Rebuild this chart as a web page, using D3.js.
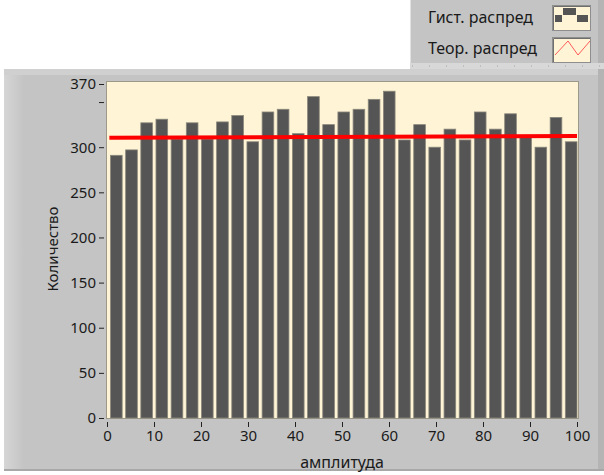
<!DOCTYPE html>
<html>
<head>
<meta charset="utf-8">
<script src="https://cdn.jsdelivr.net/npm/d3@7"></script>
<style>
  html, body { margin: 0; padding: 0; background: #ffffff; }
  svg { display: block; }
  text { font-family: "Noto Sans", "Open Sans", sans-serif; fill: #1a1a1a; }
</style>
</head>
<body>
<svg id="chart" width="604" height="475"></svg>
<script>
// ---- data ----
const xDomain = [0, 100];
const yDomain = [0, 370];
const counts = [291, 297, 327, 331, 309, 327, 309, 328, 335, 306, 339, 342, 315, 356, 325, 339,
                342, 353, 362, 308, 325, 300, 320, 308, 339, 320, 337, 311, 300, 333, 306];
const theoX = [0.5, 100];
const theoY = [310.4, 312.5];
const xTicks = [0, 10, 20, 30, 40, 50, 60, 70, 80, 90, 100];
const yTicksLabeled = [0, 50, 100, 150, 200, 250, 300, 370];
const yTicksMinor = [350];
const legendLabels = ["Гист. распред", "Теор. распред"];
const xTitle = "амплитуда";
const yTitle = "Количество";

// ---- layout ----
const svg = d3.select("#chart");
const plot = { left: 107, right: 577, top: 84, bottom: 418 };
const x = d3.scaleLinear().domain(xDomain).range([plot.left, plot.right]);
const y = d3.scaleLinear().domain(yDomain).range([plot.bottom, plot.top]);

const defs = svg.append("defs");
const gl = defs.append("linearGradient").attr("id", "leftGrad").attr("x1", 0).attr("x2", 1);
gl.append("stop").attr("offset", 0).attr("stop-color", "#d6d6d6");
gl.append("stop").attr("offset", 1).attr("stop-color", "#c4c4c4");

// legend panel
svg.append("rect").attr("x", 410).attr("y", 0).attr("width", 194).attr("height", 63).attr("fill", "#c4c4c4");
svg.append("rect").attr("x", 410).attr("y", 0).attr("width", 1).attr("height", 63).attr("fill", "#e2e2e2");
svg.append("rect").attr("x", 598).attr("y", 0).attr("width", 6).attr("height", 63).attr("fill", "#b4b4b4");
// separator strip
svg.append("rect").attr("x", 0).attr("y", 63).attr("width", 604).attr("height", 6).attr("fill", "#ffffff");
svg.append("rect").attr("x", 410).attr("y", 63).attr("width", 194).attr("height", 6).attr("fill", "#d8d8d8");
for (let sx = 412; sx < 604; sx += 17) {
  svg.append("rect").attr("x", sx).attr("y", 65).attr("width", 1).attr("height", 2).attr("fill", "#bdbdbd");
}

// main panel
svg.append("rect").attr("x", 4).attr("y", 69).attr("width", 594).attr("height", 401).attr("fill", "#c4c4c4");
svg.append("rect").attr("x", 4).attr("y", 69).attr("width", 20).attr("height", 401).attr("fill", "url(#leftGrad)");
svg.append("rect").attr("x", 4).attr("y", 69).attr("width", 594).attr("height", 6).attr("fill", "#d0d0d0");
svg.append("rect").attr("x", 598).attr("y", 69).attr("width", 6).attr("height", 401).attr("fill", "#b4b4b4");
svg.append("rect").attr("x", 4).attr("y", 469).attr("width", 600).attr("height", 2).attr("fill", "#a8a8a8");

// plot area
svg.append("rect")
  .attr("x", plot.left - 0.5).attr("y", plot.top - 2.5)
  .attr("width", plot.right - plot.left + 2).attr("height", plot.bottom - plot.top + 3)
  .attr("fill", "#fff5d6").attr("stroke", "#9c988a").attr("stroke-width", 1);

// bars
const binW = (xDomain[1] - xDomain[0]) / counts.length;
svg.append("g").selectAll("rect").data(counts).join("rect")
  .attr("x", (d, i) => x(xDomain[0] + i * binW) + 3.5)
  .attr("width", (d, i) => x(xDomain[0] + (i + 1) * binW) - x(xDomain[0] + i * binW) - 3.5)
  .attr("y", d => y(d))
  .attr("height", d => y(0) - y(d))
  .attr("fill", "#555555")
  .attr("stroke", "#8a877c").attr("stroke-width", 0.8);

// theoretical line
const line = d3.line().x(d => x(d[0])).y(d => y(d[1]));
svg.append("path")
  .datum(theoX.map((v, i) => [v, theoY[i]]))
  .attr("d", line)
  .attr("fill", "none").attr("stroke", "#ff0000").attr("stroke-width", 4);

// x axis
const xAxis = d3.axisBottom(x).tickValues(xTicks).tickSize(5).tickPadding(3).tickFormat(d3.format("d"));
const gx = svg.append("g").attr("transform", `translate(0,${plot.bottom + 4})`).call(xAxis);
gx.select(".domain").remove();
gx.selectAll(".tick line").attr("stroke", "#222");
gx.selectAll(".tick text").attr("font-size", 15).attr("font-family", "Noto Sans").attr("fill", "#1a1a1a");

// y axis
const yAxis = d3.axisLeft(y).tickValues(yTicksLabeled).tickSize(5).tickPadding(3).tickFormat(d3.format("d"));
const gy = svg.append("g").attr("transform", `translate(${plot.left - 3},0)`).call(yAxis);
gy.select(".domain").remove();
gy.selectAll(".tick line").attr("stroke", "#222");
gy.selectAll(".tick text").attr("font-size", 15).attr("font-family", "Noto Sans").attr("fill", "#1a1a1a");
const gyMinor = svg.append("g").attr("transform", `translate(${plot.left - 3},0)`)
  .call(d3.axisLeft(y).tickValues(yTicksMinor).tickSize(5).tickFormat(""));
gyMinor.select(".domain").remove();
gyMinor.selectAll(".tick line").attr("stroke", "#222");

// axis titles
svg.append("text").attr("x", (plot.left + plot.right) / 2).attr("y", 468)
  .attr("text-anchor", "middle").attr("font-size", 16).text(xTitle);
svg.append("text").attr("transform", `translate(58,249) rotate(-90)`)
  .attr("text-anchor", "middle").attr("font-size", 15).text(yTitle);

// legend
const legY = [23, 54];
legendLabels.forEach((t, i) => {
  svg.append("text").attr("x", 428).attr("y", legY[i]).attr("font-size", 16).text(t);
});
// icon boxes
[[552, 5], [552, 37]].forEach(([bx, by]) => {
  svg.append("rect").attr("x", bx + 0.5).attr("y", by + 0.5).attr("width", 38).attr("height", 25)
    .attr("fill", "#fff5d6").attr("stroke", "#8e8e8e").attr("stroke-width", 1);
  svg.append("path").attr("d", `M${bx + 1.5},${by + 25} V${by + 1.5} H${bx + 38}`)
    .attr("fill", "none").attr("stroke", "#6e6e6e").attr("stroke-width", 1);
});
// histogram icon
[[555, 15, 7, 7], [563, 8, 13, 7], [577, 15, 11, 7]].forEach(([rx, ry, rw, rh]) => {
  svg.append("rect").attr("x", rx).attr("y", ry).attr("width", rw).attr("height", rh).attr("fill", "#555555");
});
// line icon
svg.append("path").attr("d", "M555,55 L568,41 L578,55 L590,41")
  .attr("fill", "none").attr("stroke", "#ff5a5a").attr("stroke-width", 1);
</script>
</body>
</html>
